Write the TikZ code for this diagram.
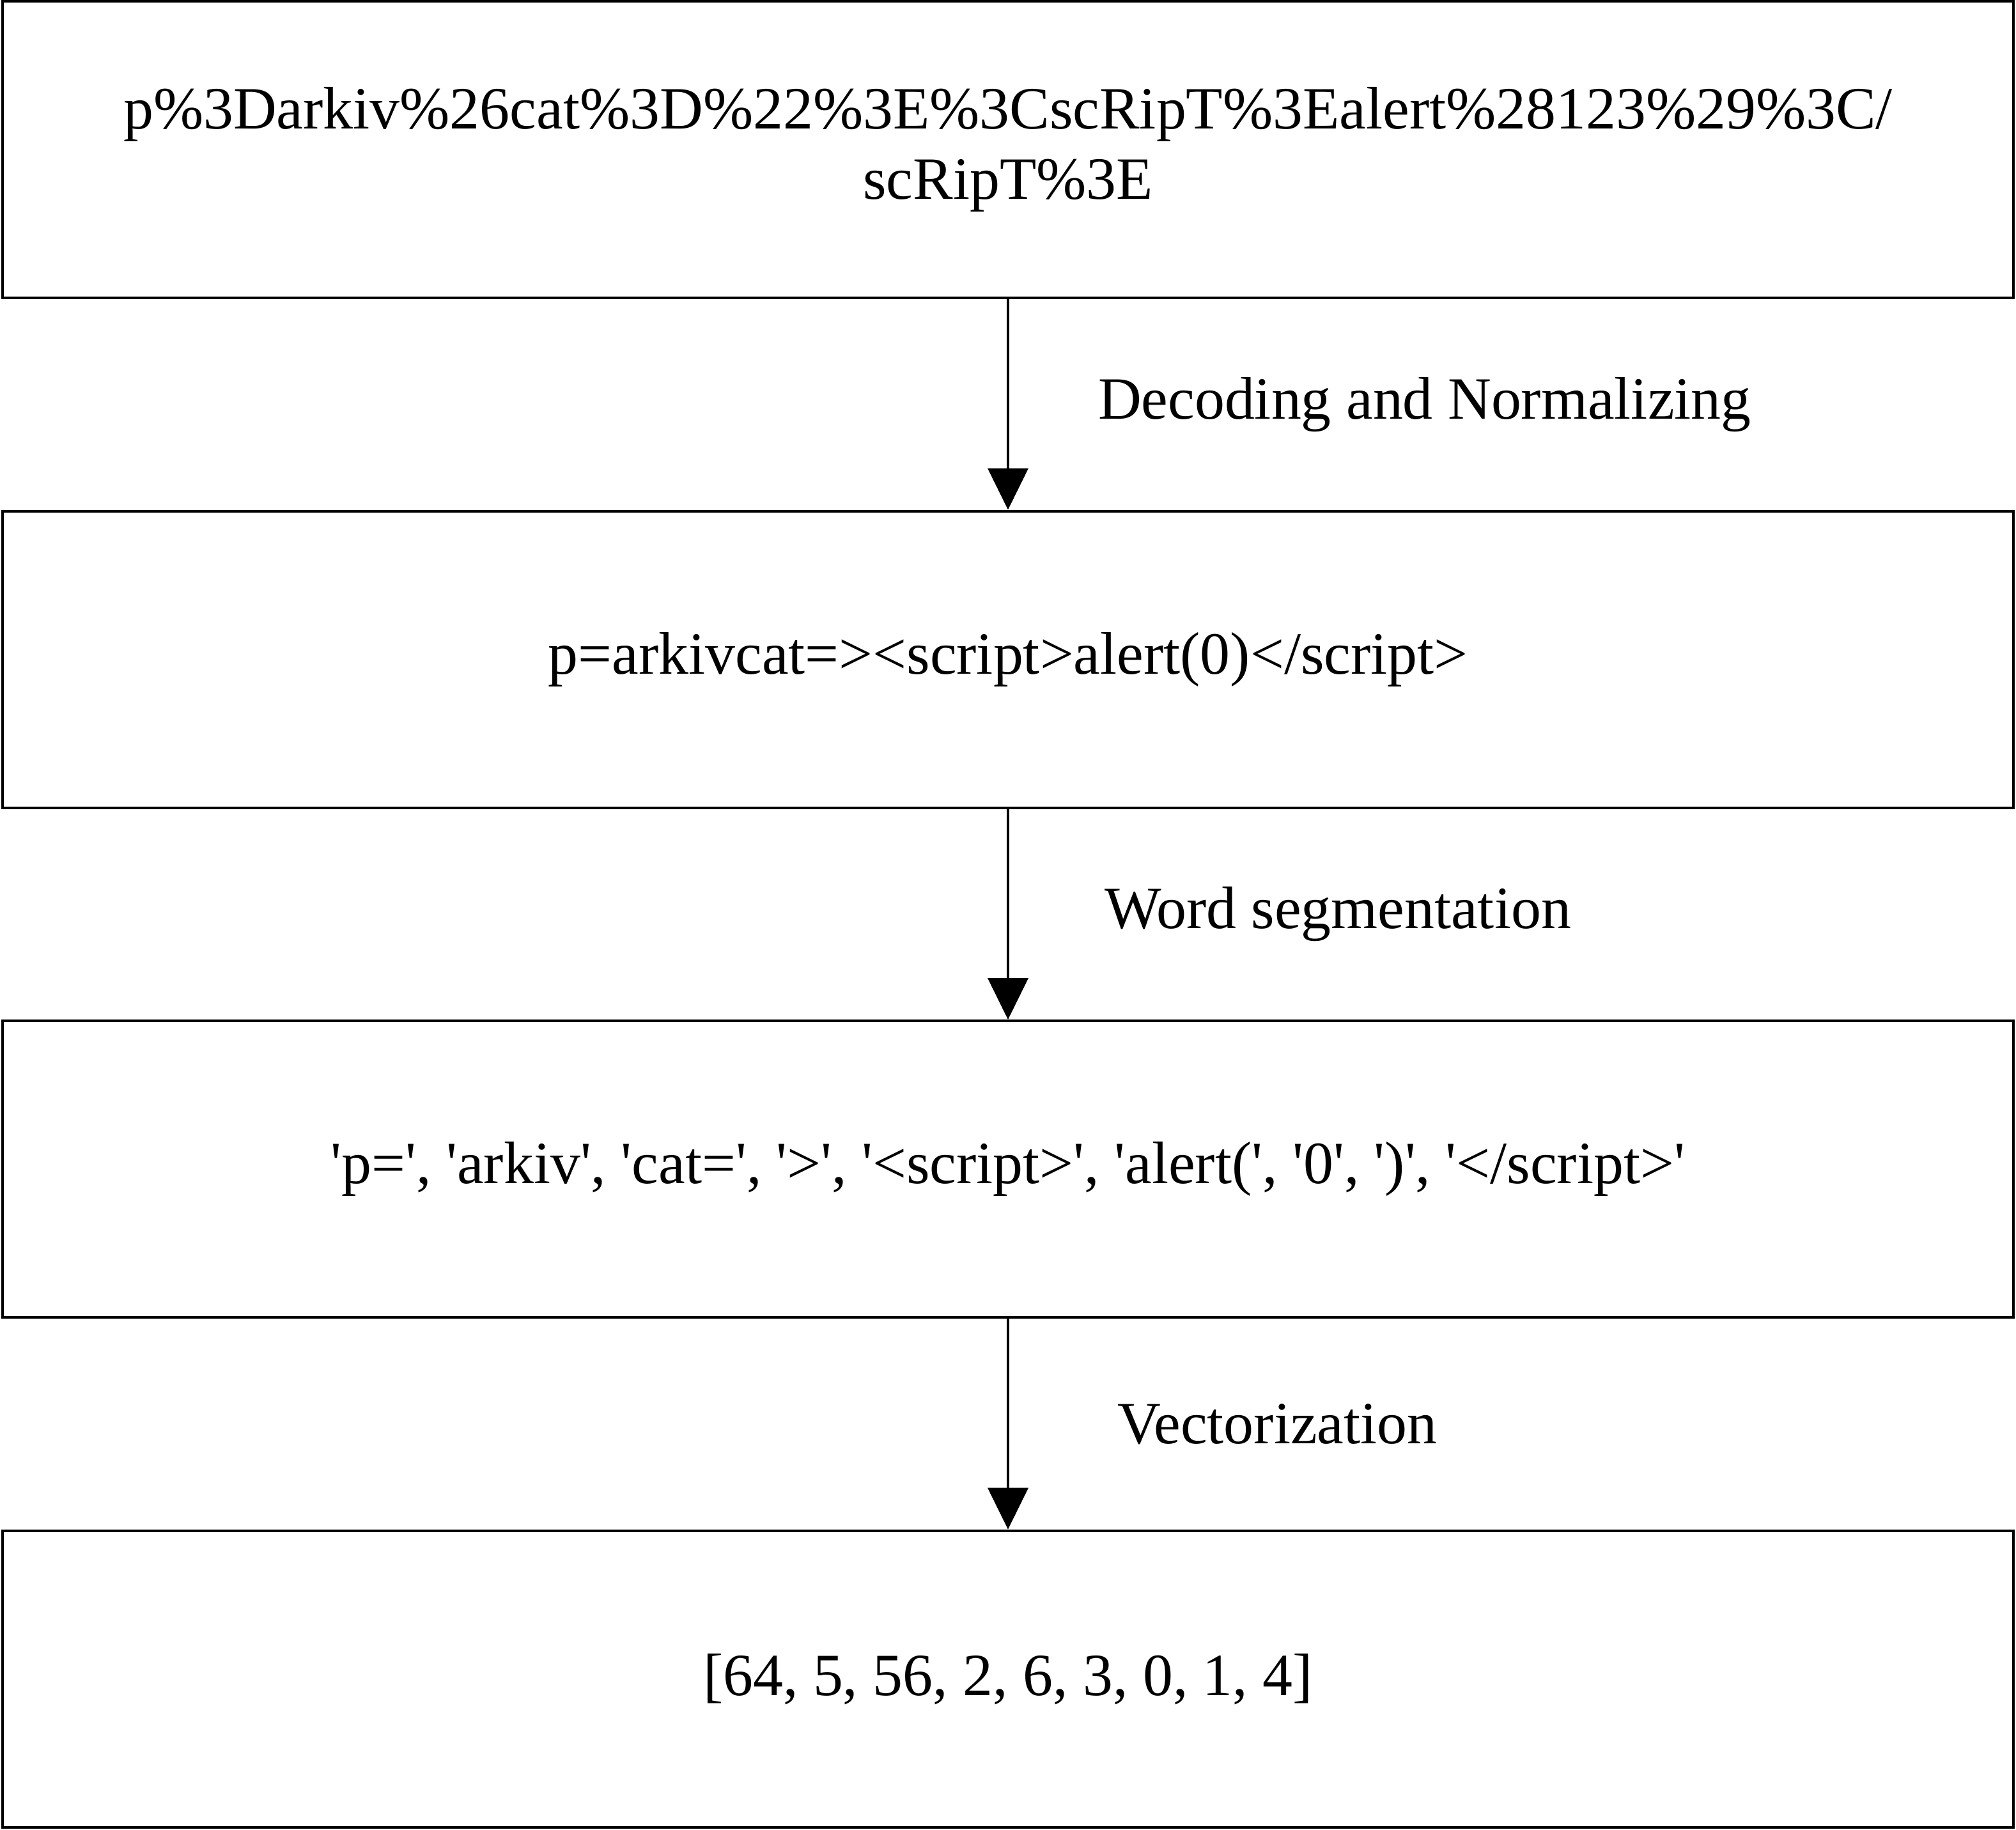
\documentclass[tikz,border=0pt]{standalone}
\usepackage{fontspec}
\newfontfamily\tnr{Liberation Serif}
\usetikzlibrary{positioning, arrows.meta}

\tikzset{
  stage/.style={draw, line width=1.15pt, minimum width=31.46cm, minimum height=4.64cm,
    align=center, inner sep=0pt},
  steplabel/.style={inner sep=0pt, anchor=west}
}

\begin{document}
\begin{tikzpicture}[>={Triangle[width=0.63cm,length=0.65cm]},
  every node/.style={font=\tnr\fontsize{26.7}{31.5}\selectfont}
]
  \useasboundingbox (0,0) rectangle (31.54,-28.62);

  % the four stages, top to bottom
  \node[stage] (raw) at (15.77,-2.34)
    {p\%3Darkiv\%26cat\%3D\%22\%3E\%3CscRipT\%3Ealert\%28123\%29\%3C/\\scRipT\%3E};
  \node[stage, below=3.295cm of raw] (norm) {p=arkivcat=><script>alert(0)</script>};
  \node[stage, below=3.295cm of norm] (tokens)
    {'p=', 'arkiv', 'cat=', '>', '<script>', 'alert(', '0', ')', '</script>'};
  \node[stage, below=3.295cm of tokens] (vec) {[64, 5, 56, 2, 6, 3, 0, 1, 4]};

  % arrows with their step names
  \draw[->, line width=1.15pt] (raw) -- (norm)
    node[midway, steplabel, xshift=1.39cm] (decode) {Decoding and Normalizing};
  \draw[->, line width=1.15pt] (norm) -- (tokens)
    node[midway, steplabel, xshift=1.49cm] (segment) {Word segmentation};
  \draw[->, line width=1.15pt] (tokens) -- (vec)
    node[midway, steplabel, xshift=1.69cm] (vectorize) {Vectorization};
\end{tikzpicture}
\end{document}
